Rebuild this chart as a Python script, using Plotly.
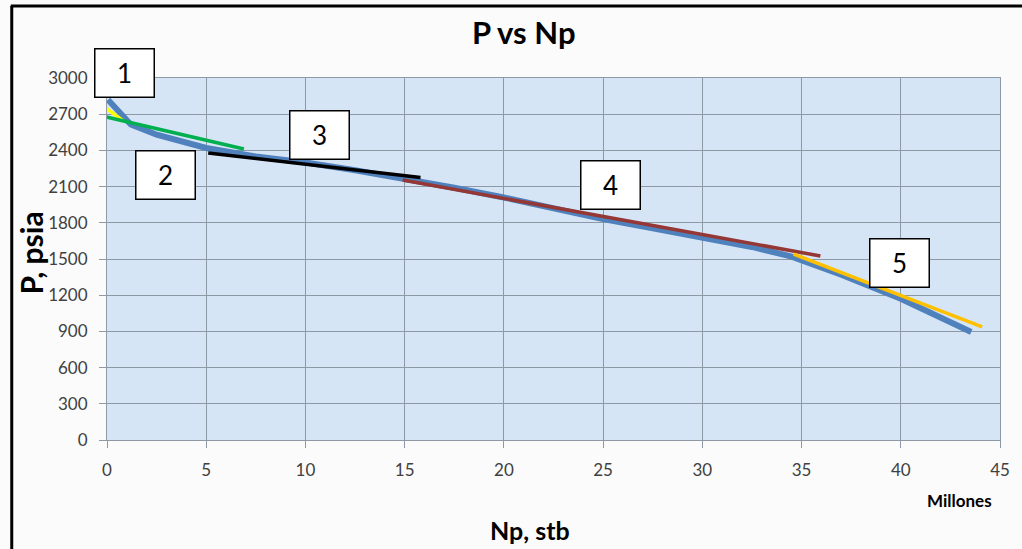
import plotly.graph_objects as go

# Cumulative production (millions of stb) and reservoir pressure (psia)
np_data = [0.05, 1.2, 2.5, 5, 7.5, 10, 12.5, 15, 17.5, 20, 22.5, 25, 27.5, 30, 32.5, 34.5, 37, 40, 43.55]
p_data = [2820, 2615, 2530, 2420, 2350, 2300, 2235, 2165, 2090, 2010, 1920, 1830, 1755, 1680, 1600, 1520, 1370, 1170, 895]

# Straight-line segments fitted to each period (start, end)
seg_np = [[-0.45, 0.85], [-0.25, 6.9], [5.1, 15.8], [14.9, 35.95], [34.6, 44.1]]
seg_p = [[2800, 2640], [2685, 2411], [2378, 2175], [2155, 1525], [1541, 937]]
seg_colors = ["#ffff00", "#00b050", "#000000", "#953735", "#ffc000"]

# Period labels and where they sit (Np, P)
label_text = ["1", "2", "3", "4", "5"]
label_np = [0.875, 2.925, 10.7, 25.35, 39.95]
label_p = [3041, 2196, 2528, 2117, 1471]

x_ticks = [0, 5, 10, 15, 20, 25, 30, 35, 40, 45]
y_ticks = [0, 300, 600, 900, 1200, 1500, 1800, 2100, 2400, 2700, 3000]
Y_MAX = 3000

FONT = "Lato"

L, R, T, B = 107, 15, 78, 109
W, H = 1022, 549
pw, ph = W - L - R, H - T - B
px_per_psi = ph / Y_MAX

fig = go.Figure()
fig.add_trace(go.Scatter(
    x=np_data, y=p_data, mode="lines",
    line=dict(color="#4f81bd", width=6),
    showlegend=False, hoverinfo="skip",
))
for sx, sy, c in zip(seg_np, seg_p, seg_colors):
    fig.add_trace(go.Scatter(
        x=sx, y=sy, mode="lines",
        line=dict(color=c, width=3.5),
        showlegend=False, hoverinfo="skip",
    ))

annotations = []
for t, lx, ly in zip(label_text, label_np, label_p):
    # labels above the top of the axis are anchored at its edge and shifted up
    anchor_y = min(ly, Y_MAX)
    annotations.append(dict(
        x=lx, y=anchor_y, yshift=(ly - anchor_y) * px_per_psi,
        xref="x", yref="y", text=t, showarrow=False,
        font=dict(family=FONT, size=26, color="#000000"),
        bgcolor="#ffffff", bordercolor="#000000", borderwidth=1.5,
        width=58, height=47, borderpad=0, align="center", valign="middle",
    ))


def px(x):
    return (x - L) / pw


def py(y):
    return (H - B - y) / ph


annotations += [
    dict(x=px(527), y=py(32), xref="paper", yref="paper", text="<b>P vs Np</b>",
         showarrow=False, font=dict(family=FONT, size=31, color="#000000"),
         xanchor="center", yanchor="middle"),
    dict(x=px(533), y=py(530), xref="paper", yref="paper", text="<b>Np, stb</b>",
         showarrow=False, font=dict(family=FONT, size=25, color="#000000"),
         xanchor="center", yanchor="middle"),
    dict(x=px(30), y=py(253), xref="paper", yref="paper", text="<b>P, psia</b>",
         showarrow=False, textangle=-90, font=dict(family=FONT, size=30, color="#000000"),
         xanchor="center", yanchor="middle"),
    dict(x=px(966), y=py(500), xref="paper", yref="paper", text="<b>Millones</b>",
         showarrow=False, font=dict(family=FONT, size=17, color="#000000"),
         xanchor="center", yanchor="middle"),
]

# Chart-area frame on the left and top edges
shapes = [
    dict(type="line", xref="paper", yref="paper", x0=px(11), x1=px(11), y0=py(6), y1=py(560),
         line=dict(color="#000000", width=3)),
    dict(type="line", xref="paper", yref="paper", x0=px(10), x1=px(1030), y0=py(6), y1=py(6),
         line=dict(color="#000000", width=3)),
]

grid = "#8e99a6"
axis_common = dict(
    showgrid=True, gridcolor=grid, gridwidth=1,
    showline=True, linecolor=grid, linewidth=1, mirror=True,
    ticks="outside", ticklen=7, tickcolor=grid, ticklabelstandoff=8,
    tickfont=dict(family=FONT, size=17, color="#404040"),
    zeroline=False, fixedrange=True,
)
fig.update_layout(
    width=W, height=H,
    margin=dict(l=L, r=R, t=T, b=B),
    paper_bgcolor="#fbfbfb",
    plot_bgcolor="#d6e5f5",
    annotations=annotations,
    shapes=shapes,
    xaxis=dict(range=[0, 45], tickvals=x_ticks, ticktext=[str(v) for v in x_ticks], **axis_common),
    yaxis=dict(range=[0, Y_MAX], tickvals=y_ticks, ticktext=[str(v) for v in y_ticks], **axis_common),
)

fig.write_html("out.html")
